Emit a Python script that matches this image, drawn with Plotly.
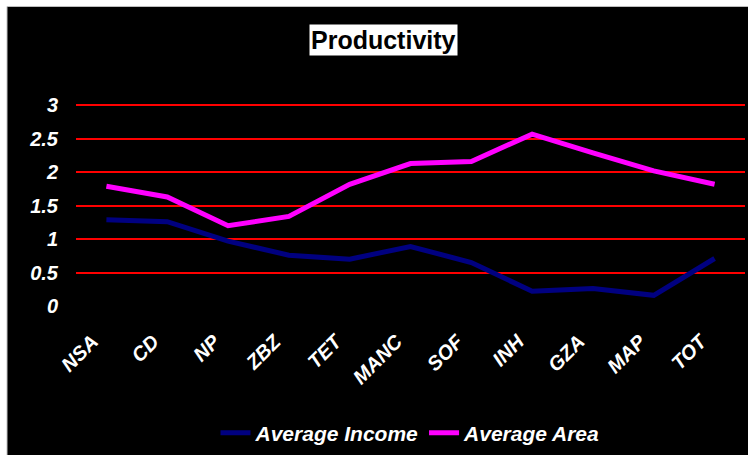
import plotly.graph_objects as go

# Productivity by unit
categories = ["NSA", "CD", "NP", "ZBZ", "TET", "MANC", "SOF", "INH", "GZA", "MAP", "TOT"]
average_income = [1.29, 1.26, 0.97, 0.76, 0.70, 0.89, 0.65, 0.22, 0.26, 0.16, 0.71]
average_area = [1.79, 1.63, 1.20, 1.34, 1.82, 2.13, 2.16, 2.57, 2.29, 2.02, 1.82]
y_ticks = [0, 0.5, 1, 1.5, 2, 2.5, 3]
y_tick_text = ["0", "0.5", "1", "1.5", "2", "2.5", "3"]

W, H = 748, 455
L, R, T, B = 76, 3, 104, 148
pw, ph = W - L - R, H - T - B

def px_x(p):
    return (p - L) / pw

def px_y(p):
    return (H - B - p) / ph

font_family = "Liberation Sans, Arial, sans-serif"

fig = go.Figure()
fig.add_trace(go.Scatter(
    x=categories, y=average_income, name="Average Income", mode="lines",
    line=dict(color="#000080", width=5),
))
fig.add_trace(go.Scatter(
    x=categories, y=average_area, name="Average Area", mode="lines",
    line=dict(color="#ff00ff", width=5),
))

# black chart panel with a thin white margin top/left
fig.add_shape(
    type="rect", xref="paper", yref="paper", layer="below",
    x0=px_x(7), x1=px_x(W + 5), y0=px_y(H + 5), y1=px_y(6),
    fillcolor="black", line=dict(color="#c0c0c0", width=1),
)

fig.add_annotation(
    text="<b>Productivity</b>", xref="paper", yref="paper",
    x=px_x(383), y=px_y(40), xanchor="center", yanchor="middle",
    showarrow=False, bgcolor="white", borderpad=1,
    font=dict(family=font_family, size=25, color="black"),
)

fig.update_layout(
    width=W, height=H,
    margin=dict(l=L, r=R, t=T, b=B),
    paper_bgcolor="white", plot_bgcolor="rgba(0,0,0,0)",
    showlegend=True,
    legend=dict(
        orientation="h", x=0.5, xanchor="center", y=px_y(433), yanchor="middle",
        font=dict(family=font_family, size=21, color="white", style="italic", weight="bold"),
        bgcolor="rgba(0,0,0,0)", tracegroupgap=0,
    ),
)
fig.update_xaxes(
    range=[-0.5, len(categories) - 0.5], showgrid=False, zeroline=False, showline=False,
    tickangle=-45, ticks="", ticklabelstandoff=19, ticklabelshift=-14,
    tickfont=dict(family=font_family, size=20, color="white", style="italic", weight="bold"),
)
fig.update_yaxes(
    range=[0, 3.02], tickvals=y_ticks, ticktext=y_tick_text,
    showgrid=True, gridcolor="#ff0000", gridwidth=2,
    zeroline=True, zerolinecolor="black", zerolinewidth=2, showline=False,
    ticks="", ticklabelstandoff=17,
    tickfont=dict(family=font_family, size=20, color="white", style="italic", weight="bold"),
)

fig.write_html("out.html")
